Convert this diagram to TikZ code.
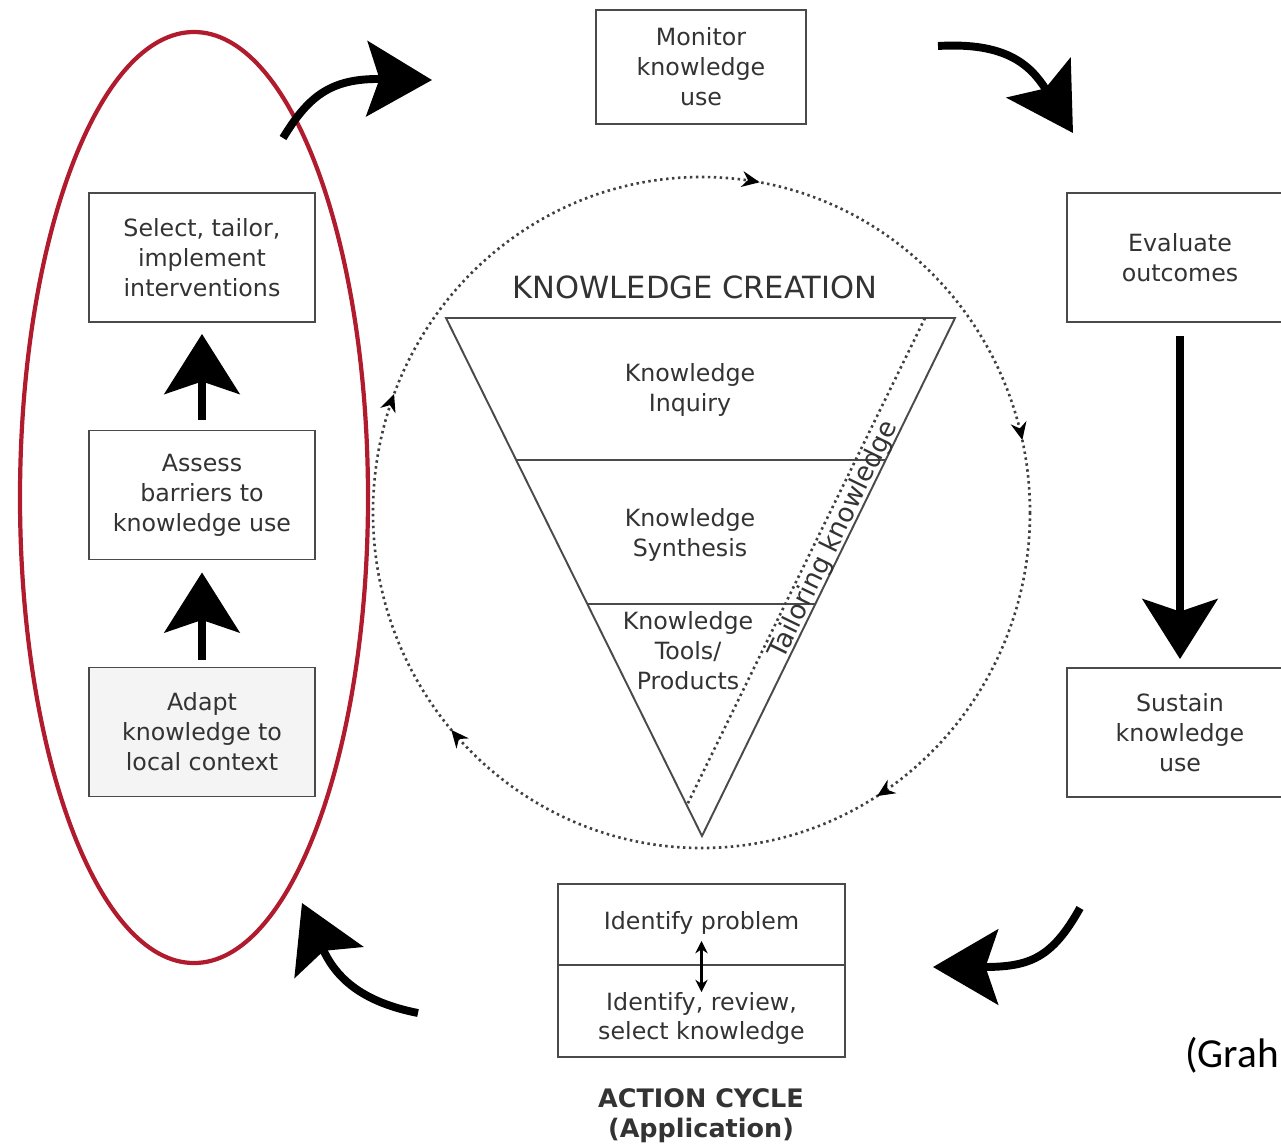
\documentclass[tikz,border=0pt]{standalone}
\usepackage{fontspec}
\setmainfont{DejaVu Sans}
\newfontfamily\credfont{Carlito}
\usepackage{xcolor}
\usetikzlibrary{arrows.meta,decorations.markings}
\definecolor{boxgray}{HTML}{4A4A4A}
\definecolor{txtgray}{HTML}{333333}
\definecolor{ovalred}{HTML}{B01C2E}
\definecolor{lightfill}{HTML}{F4F4F4}

\begin{document}
\begin{tikzpicture}[x=0.02cm,y=-0.02cm,
  stage/.style={draw=boxgray,line width=1.1pt,align=center,text=txtgray,inner sep=0pt,
    font=\fontsize{13.5}{17}\selectfont,minimum width=4.52cm,minimum height=2.58cm},
  layer/.style={align=center,text=txtgray,font=\fontsize{13.5}{17}\selectfont},
  bigarrow/.style={line width=4.5pt,-{Stealth[length=1.2cm,width=1.5cm,inset=0.25cm]}},
  cyclearrow/.style={line width=4.5pt,-{Stealth[length=1.3cm,width=1.5cm,inset=0.25cm]}},
  loopdots/.style={draw=black!75,line width=1.5pt,dash pattern=on 1.4pt off 2pt},
  looptip/.style={solid,fill=black,draw=black}]
\useasboundingbox (0,0) rectangle (1281,1144);

% red oval round the adaptation steps
\draw[ovalred,line width=2.4pt] (194,497.5) ellipse [x radius=174,y radius=465.5];

% action cycle boxes
\node[stage] (select) at (202,257.5) {Select, tailor,\\implement\\interventions};
\node[stage] (assess) at (202,495) {Assess\\barriers to\\knowledge use};
\node[stage,fill=lightfill] (adapt) at (202,732) {Adapt\\knowledge to\\local context};
\node[stage,minimum width=4.2cm,minimum height=2.28cm] (monitor) at (701,67) {Monitor\\knowledge\\use};
\node[stage] (evaluate) at (1180,257.5) {Evaluate\\outcomes};
\node[stage] (sustain) at (1180,732.5) {Sustain\\knowledge\\use};
\node[stage,minimum width=5.74cm,minimum height=1.62cm] (problem) at (701.5,924.5) {Identify problem\rule[-0.16cm]{0pt}{0pt}};
\node[stage,minimum width=5.74cm,minimum height=1.84cm] (review) at (701.5,1011) {\rule{0pt}{0.66cm}Identify, review,\\select knowledge};
\node[align=center,text=txtgray,font=\fontsize{14.5}{17}\selectfont\bfseries] (cycle) at (701,1116) {ACTION CYCLE\\(Application)};

% straight arrows
\draw[bigarrow,shorten <=0.14cm,shorten >=0.24cm] (adapt) -- (assess);
\draw[bigarrow,shorten <=0.2cm,shorten >=0.22cm] (assess) -- (select);
\draw[bigarrow,shorten <=0.26cm,shorten >=0.16cm] (evaluate) -- (sustain);
\draw[line width=1.3pt,{Stealth[length=7pt,width=7pt]}-{Stealth[length=7pt,width=7pt]}]
  ([yshift=0.5cm]problem.south) -- ([yshift=-0.56cm]review.north);

% curved arrows of the cycle
\coordinate (tlfrom) at (283,138);
\coordinate (tlto) at (432,80);
\coordinate (trfrom) at (938,46);
\coordinate (trto) at (1073,133);
\coordinate (brfrom) at (1080,908);
\coordinate (brto) at (933,967);
\coordinate (blfrom) at (418,1013);
\coordinate (blto) at (302,903);
\draw[cyclearrow] (tlfrom) .. controls (308,97) and (330,78) .. (tlto);
\draw[cyclearrow] (trfrom) .. controls (1005,42) and (1030,64) .. (trto);
\draw[cyclearrow] (brfrom) .. controls (1052,958) and (1030,967) .. (brto);
\draw[cyclearrow] (blfrom) .. controls (362,1002) and (336,978) .. (blto);

% knowledge creation funnel
\draw[loopdots,postaction={decorate},decoration={markings,
  mark=at position 0.161 with {\arrow[looptip]{Stealth[length=10pt,width=9pt]}},
  mark=at position 0.387 with {\arrow[looptip]{Stealth[length=10pt,width=9pt]}},
  mark=at position 0.558 with {\arrow[looptip]{Stealth[length=10pt,width=9pt]}},
  mark=at position 0.778 with {\arrow[looptip]{Stealth[length=10pt,width=9pt]}},
  mark=at position 0.965 with {\arrow[looptip]{Stealth[length=10pt,width=9pt]}}}]
  (701.5,512.5) ellipse [x radius=328.5,y radius=335.5];
\node[text=txtgray,font=\fontsize{17.4}{20}\selectfont] (creation) at (695,287) {KNOWLEDGE CREATION};
\draw[boxgray,line width=1.1pt] (446,318) -- (955,318) -- (702,836) -- cycle;
\draw[boxgray,line width=1.6pt] (446,318) -- (955,318);
\draw[boxgray,line width=1.1pt] (516,460) -- (886,460);
\draw[boxgray,line width=1.1pt] (588,604) -- (815,604);
\draw[loopdots] (925,318) -- (687,805);
\node[layer] (inquiry) at (690,390) {Knowledge\\Inquiry};
\node[layer] (synthesis) at (690,535) {Knowledge\\Synthesis};
\node[layer] (tools) at (688,651) {Knowledge\\Tools/\\Products};
\node[text=txtgray,font=\fontsize{15}{17}\selectfont,rotate=64,inner sep=0pt] (tailor) at (834,540) {Tailoring knowledge};

\node[anchor=base west,inner sep=0pt,font=\credfont\fontsize{23.5}{26}\selectfont] (cite) at (1185,1067) {(Grah};
\end{tikzpicture}
\end{document}
